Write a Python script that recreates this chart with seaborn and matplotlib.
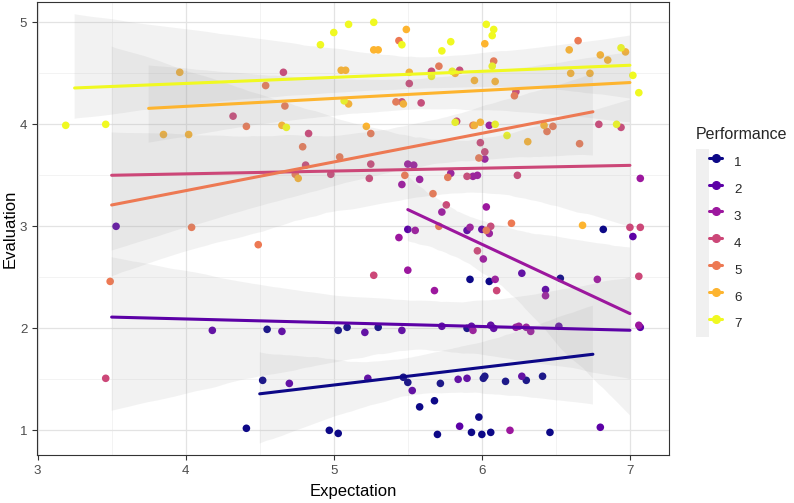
import numpy as np
import pandas as pd
import matplotlib
matplotlib.use('Agg')
import matplotlib.pyplot as plt
from matplotlib.lines import Line2D
from matplotlib.patches import Patch
from matplotlib.legend_handler import HandlerTuple
from matplotlib.ticker import MultipleLocator
import seaborn as sns

# Дані (точки, вже з jitter)
performance = [1, 2, 3, 4, 5, 6, 7]

exp_1 = [4.55, 4.52, 4.41, 5.03, 5.09, 5.30, 5.90, 5.47, 5.50, 5.72, 6.01, 6.02, 6.16, 5.58, 5.68,
         5.98, 4.97, 5.03, 5.70, 5.93, 6.00, 6.06, 6.82, 5.92, 6.05, 6.53, 6.30, 6.41, 6.46]
eval_1 = [1.99, 1.49, 1.02, 1.98, 2.01, 2.01, 2.00, 1.52, 1.47, 1.46, 1.51, 1.53, 1.48, 1.23, 1.29,
          1.13, 1.00, 0.97, 0.96, 0.98, 0.96, 0.98, 2.97, 2.48, 2.46, 2.49, 1.49, 1.53, 0.98]

exp_2 = [3.53, 4.18, 4.65, 5.21, 5.46, 5.73, 5.93, 6.06, 6.08, 4.70, 5.23, 5.53, 5.84, 5.90, 5.85,
         6.27, 7.02, 6.43, 6.52, 7.07, 6.27, 6.80, 5.50, 5.90, 6.00]
eval_2 = [3.00, 1.98, 1.97, 1.96, 1.98, 2.02, 2.02, 2.03, 2.00, 1.46, 1.51, 1.39, 1.50, 1.51, 1.04,
          2.54, 2.90, 2.38, 2.02, 2.01, 1.53, 1.03, 2.97, 2.96, 2.97]

exp_3 = [5.50, 5.54, 5.46, 5.58, 5.79, 5.94, 5.97, 6.02, 6.03, 5.73, 6.05, 5.55, 5.44, 5.92, 6.05,
         5.50, 6.01, 6.09, 5.68, 5.94, 6.23, 6.25, 6.30, 6.33, 6.78, 6.43, 7.07, 6.19, 7.06]
eval_3 = [3.61, 3.60, 3.41, 3.46, 3.52, 3.49, 3.50, 3.66, 3.19, 3.14, 3.99, 2.96, 2.89, 2.99, 2.93,
          2.57, 2.68, 2.48, 2.37, 1.98, 2.01, 2.02, 2.01, 1.97, 2.48, 2.32, 3.47, 1.00, 2.03]

exp_4 = [4.32, 3.46, 4.66, 5.51, 5.66, 5.85, 5.46, 5.59, 4.83, 4.81, 5.25, 4.98, 5.24, 5.99, 6.02,
         6.24, 5.90, 5.76, 5.83, 6.06, 5.27, 5.97, 6.10, 7.00, 7.07, 7.06, 6.23, 6.79, 6.94]
eval_4 = [4.08, 1.51, 4.51, 4.40, 4.52, 4.53, 4.22, 4.21, 3.91, 3.60, 3.61, 3.51, 3.47, 3.82, 3.73,
          3.50, 3.49, 3.21, 4.03, 3.00, 2.52, 2.76, 2.37, 2.99, 2.99, 2.51, 4.32, 4.00, 3.97]

exp_5 = [4.54, 4.41, 4.04, 4.49, 3.49, 5.44, 5.71, 6.08, 4.67, 5.42, 6.22, 5.25, 4.79, 5.04, 4.74,
         5.48, 5.77, 5.98, 5.67, 6.20, 5.94, 6.65, 6.44, 6.48, 6.66, 5.71, 6.03]
eval_5 = [4.38, 3.98, 2.99, 2.82, 2.46, 4.82, 4.57, 4.62, 4.18, 4.22, 4.28, 3.91, 3.78, 3.68, 3.51,
          3.50, 3.48, 3.67, 3.32, 3.03, 3.99, 4.82, 3.93, 3.98, 3.81, 3.00, 2.96]

exp_6 = [3.96, 3.85, 4.02, 4.65, 5.49, 5.27, 5.30, 6.02, 5.05, 5.08, 5.51, 5.82, 5.95, 6.09, 5.10,
         5.47, 5.22, 5.95, 5.99, 4.76, 6.68, 6.59, 6.80, 6.85, 6.97, 6.60, 6.73, 6.31, 6.42]
eval_6 = [4.51, 3.90, 3.90, 3.99, 4.93, 4.73, 4.73, 4.79, 4.53, 4.53, 4.51, 4.50, 4.43, 4.42, 4.20,
          4.20, 3.98, 3.99, 4.02, 3.47, 3.01, 4.73, 4.68, 4.63, 4.71, 4.50, 4.50, 3.83, 3.99]

exp_7 = [3.19, 3.46, 4.91, 5.00, 5.10, 5.27, 5.46, 5.73, 5.79, 6.03, 6.08, 6.07, 6.07, 5.66, 5.80,
         5.07, 4.68, 5.82, 6.09, 6.17, 6.94, 7.02, 7.06, 6.91]
eval_7 = [3.99, 4.00, 4.78, 4.90, 4.98, 5.00, 4.78, 4.72, 4.81, 4.98, 4.93, 4.87, 4.57, 4.47, 4.52,
          4.23, 3.97, 4.02, 4.00, 3.89, 4.75, 4.48, 4.31, 4.00]

expectation = [exp_1, exp_2, exp_3, exp_4, exp_5, exp_6, exp_7]
evaluation = [eval_1, eval_2, eval_3, eval_4, eval_5, eval_6, eval_7]

rows = []
for p, xs, ys in zip(performance, expectation, evaluation):
    for x, y in zip(xs, ys):
        rows.append((p, x, y))
df = pd.DataFrame(rows, columns=['Performance', 'Expectation', 'Evaluation'])
# лінії регресії: Expectation без jitter (крок 0.25)
df['exp_raw'] = (df['Expectation'] * 4).round() / 4

sns.set_theme(style='white')
plt.rcParams['font.family'] = ['Liberation Sans', 'DejaVu Sans']

colors = plt.cm.plasma(np.linspace(0, 1, len(performance)))
palette = dict(zip(performance, colors))

fig = plt.figure(figsize=(7.94, 5.03), dpi=100)
ax = fig.add_axes([0.0466, 0.0954, 0.7960, 0.9012])

sns.scatterplot(data=df, x='Expectation', y='Evaluation', hue='Performance', palette=palette,
                s=30, linewidth=0, legend=False, ax=ax, zorder=3)

for p in performance:
    sub = df[df['Performance'] == p]
    n = len(ax.collections)
    sns.regplot(data=sub, x='exp_raw', y='Evaluation', scatter=False, truncate=True, ci=95, seed=1,
                color=palette[p], line_kws={'lw': 2.2, 'zorder': 5}, ax=ax)
    for coll in ax.collections[n:]:
        coll.set_facecolor((0.6, 0.6, 0.6))
        coll.set_edgecolor('none')
        coll.set_alpha(0.12)
        coll.set_zorder(4)

ax.set_xlim(2.996, 7.264)
ax.set_ylim(0.758, 5.202)
ax.set_xticks([3, 4, 5, 6, 7])
ax.set_yticks([1, 2, 3, 4, 5])
ax.xaxis.set_minor_locator(MultipleLocator(0.5))
ax.yaxis.set_minor_locator(MultipleLocator(0.5))
ax.set_axisbelow(True)
ax.grid(which='major', color='#e3e3e3', lw=0.9)
ax.grid(which='minor', color='#eeeeee', lw=0.5)
ax.tick_params(which='major', labelsize=9.6, labelcolor='#4d4d4d', length=3.5, width=0.8,
               color='#333333', left=True, bottom=True)
ax.tick_params(which='minor', length=0)
for s in ax.spines.values():
    s.set_color('#333333')
    s.set_linewidth(0.8)

ax.set_xlabel('Expectation', fontsize=12, color='black', labelpad=5)
ax.set_ylabel('Evaluation', fontsize=12, color='black')
ax.yaxis.set_label_coords(-0.030, 0.5)

# Легенда
fig.text(696 / 794, 1 - 134 / 503, 'Performance', fontsize=11.5, va='center', ha='left')
handles = [(Patch(facecolor='#f0f0f0', edgecolor='none'),
            Line2D([], [], color=c, lw=2.2, marker='o', markersize=5.5)) for c in colors]
fig.legend(handles, [str(p) for p in performance],
           loc='upper left', bbox_to_anchor=(696 / 794, 1 - 149 / 503), frameon=False, borderaxespad=0,
           handler_map={tuple: HandlerTuple(ndivide=None, pad=0)},
           handlelength=1.95, handleheight=2.72, labelspacing=0, handletextpad=0.9,
           borderpad=0, fontsize=9.6)

plt.savefig('out.png', dpi=100)
